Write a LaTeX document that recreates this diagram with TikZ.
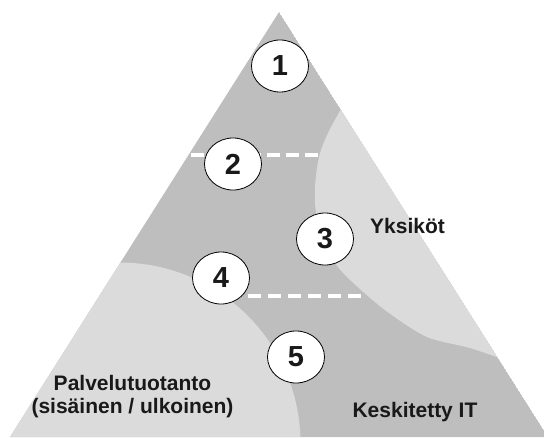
\documentclass[tikz,border=0pt]{standalone}
\usepackage{fontspec}
\setmainfont{Liberation Sans}
\usetikzlibrary{shapes.geometric}
\definecolor{midgray}{RGB}{190,190,190}
\definecolor{lightgraytwo}{RGB}{219,219,219}
\definecolor{inkc}{RGB}{25,25,25}
\begin{document}
\begin{tikzpicture}[x=1pt,y=-1pt,
  numbox/.style={ellipse, draw=black, line width=0.8pt, fill=white,
    minimum width=57pt, minimum height=52pt, inner sep=0pt,
    font=\fontsize{29}{29}\selectfont\bfseries, text=inkc},
  lbl/.style={font=\fontsize{21}{23}\selectfont\bfseries, text=inkc,
    anchor=base, inner sep=0pt},
  sepline/.style={draw=white, line width=4pt, dash pattern=on 13pt off 6pt}]
\useasboundingbox (0,0) rectangle (544,437);
\coordinate (A) at (279,12);
\coordinate (L) at (10,437);
\coordinate (R) at (548,437);
\begin{scope}
  \clip (A) -- (L) -- (R) -- cycle;
  \fill[midgray] (A) -- (L) -- (R) -- cycle;
  \fill[lightgraytwo] (119.5,443.5) circle[radius=181];
  \fill[lightgraytwo] plot[smooth] coordinates {(345,102) (328,133) (319,157)
    (315,187) (316,213) (323,240) (338,267) (361,290) (389,313) (427,337)
    (470,348) (505,360)} -- (600,360) -- (600,102) -- cycle;
\end{scope}
% dashed separators
\coordinate (d1a) at (190.5,155);
\coordinate (d1b) at (320,155);
\coordinate (d2a) at (228,296);
\coordinate (d2b) at (366,296);
\draw[sepline] (d1a) -- (d1b);
\draw[sepline, dash pattern=on 13pt off 7pt] (d2a) -- (d2b);
% numbered markers
\node[numbox] (n1) at (280,66) {1};
\node[numbox] (n2) at (233,164) {2};
\node[numbox] (n3) at (325,239) {3};
\node[numbox] (n4) at (221,278) {4};
\node[numbox] (n5) at (296,357) {5};
% labels
\node[lbl] (yks) at (407.5,233) {Yksiköt};
\node[lbl] (pal1) at (132.5,390) {Palvelutuotanto};
\node[lbl] (pal2) at (132.5,413) {(sisäinen / ulkoinen)};
\node[lbl] (kes) at (415,417) {Keskitetty IT};
\end{tikzpicture}
\end{document}
